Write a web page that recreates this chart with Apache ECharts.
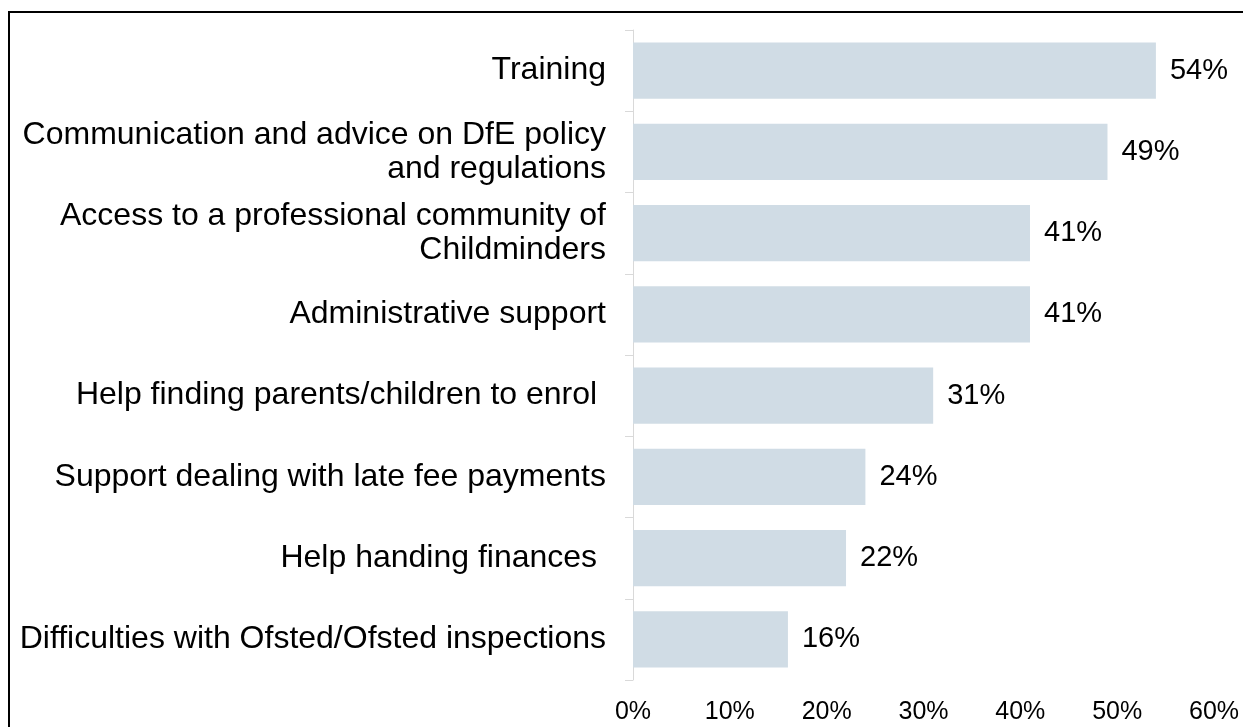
<!DOCTYPE html>
<html>
<head>
<meta charset="utf-8">
<script src="https://cdn.jsdelivr.net/npm/echarts@6/dist/echarts.min.js"></script>
<style>
  html, body { margin: 0; padding: 0; background: #fff; }
  #chart { width: 1243px; height: 727px; }
</style>
</head>
<body>
<div id="chart"></div>
<script>
// categories, top to bottom
const categories = [
  'Training',
  'Communication and advice on DfE policy\nand regulations',
  'Access to a professional community of\nChildminders',
  'Administrative support',
  'Help finding parents/children to enrol ',
  'Support dealing with late fee payments',
  'Help handing finances ',
  'Difficulties with Ofsted/Ofsted inspections'
];
const values = [54, 49, 41, 41, 31, 24, 22, 16];
const xTicks = [0, 10, 20, 30, 40, 50, 60];

let myChart = echarts.init(document.getElementById('chart'));

let option = {
  animation: false,
  textStyle: { fontFamily: 'Liberation Sans, Arial, sans-serif' },
  graphic: [{
    type: 'rect',
    shape: { x: 9, y: 12, width: 1300, height: 800 },
    style: { fill: 'none', stroke: '#000', lineWidth: 2 },
    silent: true
  }],
  grid: { left: 633, right: 29, top: 30, bottom: 47 },
  xAxis: {
    type: 'value',
    min: xTicks[0],
    max: xTicks[xTicks.length - 1],
    interval: 10,
    axisLine: { show: false },
    axisTick: { show: false },
    splitLine: { show: false },
    axisLabel: {
      color: '#000',
      fontSize: 25,
      margin: 20,
      formatter: v => v + '%'
    }
  },
  yAxis: {
    type: 'category',
    inverse: true,
    data: categories,
    axisLine: { show: true, lineStyle: { color: '#d9d9d9', width: 1 } },
    axisTick: { show: true, length: 8, lineStyle: { color: '#d9d9d9' } },
    axisLabel: {
      color: '#000',
      fontSize: 32,
      lineHeight: 34,
      margin: 27,
      align: 'right'
    }
  },
  series: [{
    type: 'bar',
    data: values,
    barCategoryGap: '31%',
    itemStyle: { color: '#d0dce5' },
    label: {
      show: true,
      position: 'right',
      distance: 14,
      color: '#000',
      fontSize: 29,
      formatter: p => p.value + '%'
    }
  }]
};

myChart.setOption(option);
</script>
</body>
</html>
